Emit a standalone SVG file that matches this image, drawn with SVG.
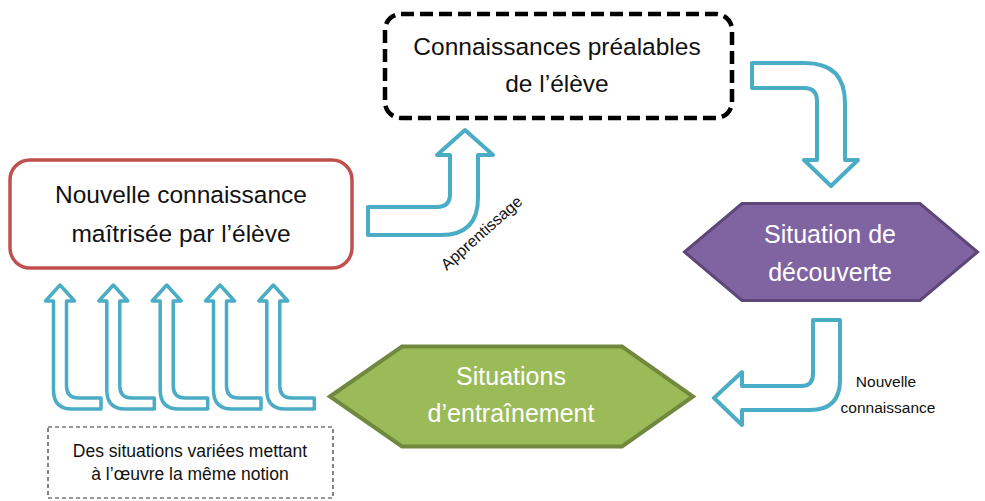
<svg xmlns="http://www.w3.org/2000/svg" width="985" height="501" viewBox="0 0 985 501">
  <style>
    .t { font-family: "Liberation Sans", Arial, sans-serif; text-anchor: middle; }
    .big { font-size: 24.5px; fill: #111; }
    .hex { font-size: 25px; fill: #ffffff; }
    .small { font-size: 17.5px; fill: #111; }
    .arrow { fill: #ffffff; stroke: #4bacc6; stroke-width: 4; stroke-linejoin: round; }
    .larrow { fill: #ffffff; stroke: #4bacc6; stroke-width: 3.5; stroke-linejoin: round; }
  </style>
  <rect width="985" height="501" fill="#ffffff"/>

  <g id="connectors">
    <path class="arrow" d="M368,207 L437,207 Q450,207 450,194 L450,155 L437,155 L465,130 L493,155 L478,155 L478,198 Q478,235 441,235 L368,235 Z"/>
    <path class="arrow" d="M752,63 L805,63 Q845,63 845,103 L845,160 L858,160 L831,186 L804,160 L817,160 L817,101 Q817,88 804,88 L752,88 Z"/>
    <path class="arrow" d="M813,320 L840,320 L840,380 Q840,410 810,410 L742,410 L742,425 L714,398 L742,372 L742,386 L801,386 Q813,386 813,374 Z"/>
    <g id="l-arrows">
      <path class="larrow" transform="translate(60,0)" d="M0,285 L14.5,301 L6.5,301 L6.5,386 Q6.5,398 18.5,398 L41,398 L41,409 L12,409 Q-6.5,409 -6.5,390 L-6.5,301 L-14.5,301 Z"/>
      <path class="larrow" transform="translate(113.3,0)" d="M0,285 L14.5,301 L6.5,301 L6.5,386 Q6.5,398 18.5,398 L41,398 L41,409 L12,409 Q-6.5,409 -6.5,390 L-6.5,301 L-14.5,301 Z"/>
      <path class="larrow" transform="translate(166.7,0)" d="M0,285 L14.5,301 L6.5,301 L6.5,386 Q6.5,398 18.5,398 L41,398 L41,409 L12,409 Q-6.5,409 -6.5,390 L-6.5,301 L-14.5,301 Z"/>
      <path class="larrow" transform="translate(220,0)" d="M0,285 L14.5,301 L6.5,301 L6.5,386 Q6.5,398 18.5,398 L41,398 L41,409 L12,409 Q-6.5,409 -6.5,390 L-6.5,301 L-14.5,301 Z"/>
      <path class="larrow" transform="translate(273.3,0)" d="M0,285 L14.5,301 L6.5,301 L6.5,386 Q6.5,398 18.5,398 L41,398 L41,409 L12,409 Q-6.5,409 -6.5,390 L-6.5,301 L-14.5,301 Z"/>
    </g>
    <text class="t" font-size="16" fill="#111" transform="translate(485,237) rotate(-41.5)">Apprentissage</text>
    <text class="t" font-size="15.5" fill="#111" x="886" y="387">Nouvelle</text>
    <text class="t" font-size="15.5" fill="#111" x="888" y="413">connaissance</text>
  </g>

  <g id="prior-knowledge">
    <rect x="385" y="14" width="347" height="104" rx="16" fill="#ffffff" stroke="#000" stroke-width="4.5" stroke-dasharray="13 6"/>
    <text class="t big" x="557" y="55">Connaissances préalables</text>
    <text class="t big" x="557" y="92">de l’élève</text>
  </g>

  <g id="new-knowledge">
    <rect x="10" y="160" width="342" height="108" rx="20" fill="#ffffff" stroke="#c0504d" stroke-width="3.5"/>
    <text class="t big" x="181" y="203">Nouvelle connaissance</text>
    <text class="t big" x="181" y="242">maîtrisée par l’élève</text>
  </g>

  <g id="discovery">
    <polygon points="684.5,252 742,203.5 920,203.5 977.5,252 920,300.5 742,300.5" fill="#8064a2" stroke="#5c4778" stroke-width="3"/>
    <text class="t hex" x="830" y="243">Situation de</text>
    <text class="t hex" x="830" y="281">découverte</text>
  </g>

  <g id="training">
    <polygon points="330,396.5 402,346.5 622,346.5 693,396.5 622,446.5 402,446.5" fill="#9bbb59" stroke="#71893f" stroke-width="4"/>
    <text class="t hex" font-size="25.5" x="511" y="385">Situations</text>
    <text class="t hex" font-size="25.5" x="511" y="422">d’entraînement</text>
  </g>

  <g id="varied-situations">
    <rect x="48" y="427" width="285" height="71" fill="#ffffff" stroke="#333" stroke-width="1.2" stroke-dasharray="4 3"/>
    <text class="t small" x="190" y="457">Des situations variées mettant</text>
    <text class="t small" x="190" y="480">à l’œuvre la même notion</text>
  </g>
</svg>
